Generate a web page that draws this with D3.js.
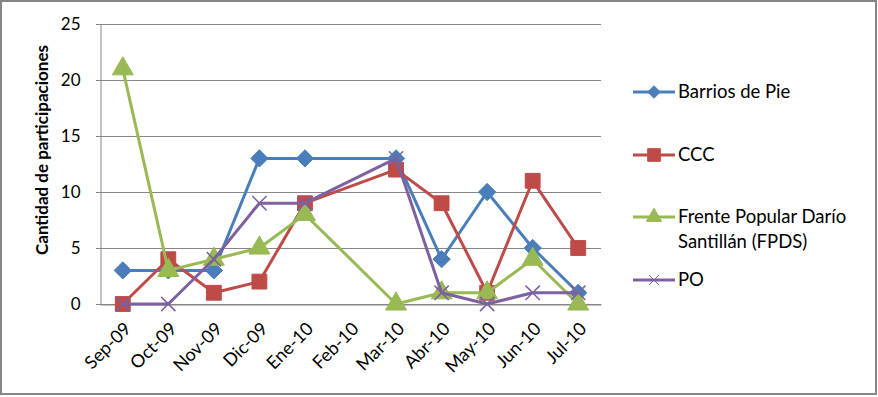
<!DOCTYPE html>
<html>
<head>
<meta charset="utf-8">
<script src="https://cdn.jsdelivr.net/npm/d3@7"></script>
<style>
  body { margin: 0; background: #fff; }
  text { font-family: Lato, "Open Sans", sans-serif; fill: #000; }
</style>
</head>
<body>
<div id="chart_div"></div>
<script>
// categories (Feb-10 has no data)
var months = ['Sep-09','Oct-09','Nov-09','Dic-09','Ene-10','Feb-10','Mar-10','Abr-10','May-10','Jun-10','Jul-10'];
var barrios = [3, 3, 3, 13, 13, null, 13, 4, 10, 5, 1];
var ccc     = [0, 4, 1, 2, 9, null, 12, 9, 1, 11, 5];
var fpds    = [21, 3, 4, 5, 8, null, 0, 1, 1, 4, 0];
var po      = [0, 0, 4, 9, 9, null, 13, 1, 0, 1, 1];
var yTicks  = [0, 5, 10, 15, 20, 25];

var series = [
  {'name':['Barrios de Pie'], 'values':barrios, 'color':'#4A7EBB', 'marker':'diamond', 'ly':92},
  {'name':['CCC'], 'values':ccc, 'color':'#BE4B48', 'marker':'square', 'ly':155},
  {'name':['Frente Popular Darío','Santillán (FPDS)'], 'values':fpds, 'color':'#98B954', 'marker':'triangle', 'ly':217},
  {'name':['PO'], 'values':po, 'color':'#7D60A0', 'marker':'x', 'ly':280}
];

var width = 878, height = 397;
var pLeft = 100, pRight = 601, pTop = 24, pBottom = 304;

var svg = d3.select("#chart_div")
        .append("svg")
        .attr("width", width)
        .attr("height", height);

// outer frame
svg.append('rect')
    .attr('x', 1).attr('y', 1)
    .attr('width', width - 3).attr('height', height - 4)
    .style('fill', 'none')
    .style('stroke', '#868686')
    .style('stroke-width', 2);

var x = d3.scaleBand().domain(months).range([pLeft, pRight]).padding(0);
var y = d3.scaleLinear().domain([0, 25]).range([pBottom, pTop]);

// gridlines
svg.selectAll('.grid')
    .data(yTicks)
    .enter()
    .append('line')
    .attr('x1', pLeft - 4).attr('x2', pRight)
    .attr('y1', function(d) { return Math.round(y(d)) + 0.5; })
    .attr('y2', function(d) { return Math.round(y(d)) + 0.5; })
    .style('stroke', '#868686')
    .style('stroke-width', 1);

// y axis
var yAxis = svg.append('g')
    .attr('transform', 'translate(' + (pLeft + 0.5) + ',0.5)')
    .call(d3.axisLeft(y).tickValues(yTicks).tickSize(0).tickPadding(20));
yAxis.select('.domain').style('stroke', '#868686');
yAxis.selectAll('text')
    .style('font-size', '17px')
    .style('font-family', 'Lato, sans-serif');

// x axis
var xAxis = svg.append('g')
    .attr('transform', 'translate(0,' + (pBottom + 0.5) + ')')
    .call(d3.axisBottom(x).tickSize(0));
xAxis.select('.domain').style('stroke', '#868686');
xAxis.selectAll('text')
    .style('font-size', '18px')
    .style('font-family', 'Lato, sans-serif')
    .style('text-anchor', 'end')
    .attr('transform', 'translate(5,21) rotate(-45)')
    .attr('dy', '0.35em')
    .attr('y', 0)
    .attr('x', 0);

// y title
svg.append('text')
    .attr('transform', 'translate(48,150) rotate(-90)')
    .style('text-anchor', 'middle')
    .style('font-size', '17px')
    .style('font-weight', 'bold')
    .text('Cantidad de participaciones');

function marker(type, size) {
    if (type == 'diamond') return d3.symbol().type(d3.symbolDiamond2).size(size * 1.0)();
    if (type == 'square') return d3.symbol().type(d3.symbolSquare).size(size)();
    if (type == 'triangle') return d3.symbol().type(d3.symbolTriangle).size(size)();
    return d3.symbol().type(d3.symbolX).size(size * 0.9)();
}

series.forEach(function(s) {
    var pts = s.values.map(function(v, i) { return {'m':months[i], 'v':v}; })
                      .filter(function(d) { return d.v != null; });
    svg.append('path')
        .datum(pts)
        .attr('d', d3.line()
            .x(function(d) { return x(d.m) + x.bandwidth() / 2; })
            .y(function(d) { return y(d.v); }))
        .style('fill', 'none')
        .style('stroke', s.color)
        .style('stroke-width', 3)
        .style('stroke-linejoin', 'round');

    svg.selectAll(null)
        .data(pts)
        .enter()
        .append('path')
        .attr('transform', function(d) { return 'translate(' + (x(d.m) + x.bandwidth() / 2) + ',' + y(d.v) + ')'; })
        .attr('d', marker(s.marker, s.marker == 'x' ? 150 : (s.marker == 'square' ? 220 : 190)))
        .style('fill', s.marker == 'x' ? 'none' : s.color)
        .style('stroke', s.color)
        .style('stroke-width', s.marker == 'x' ? 1.5 : 1);
});

// legend
var legend = svg.selectAll('.legend')
    .data(series)
    .enter()
    .append('g')
    .attr('class', 'legend')
    .attr('transform', function(d) { return 'translate(633,' + d.ly + ')'; });

legend.append('line')
    .attr('x1', 0).attr('x2', 42)
    .style('stroke', function(d) { return d.color; })
    .style('stroke-width', 3);

legend.append('path')
    .attr('transform', 'translate(21,0)')
    .attr('d', function(d) { return marker(d.marker, d.marker == 'x' ? 70 : (d.marker == 'square' ? 160 : 100)); })
    .style('fill', function(d) { return d.marker == 'x' ? 'none' : d.color; })
    .style('stroke', function(d) { return d.color; })
    .style('stroke-width', 1);

legend.each(function(d) {
    var t = d3.select(this).append('text')
        .attr('x', 45)
        .attr('y', 6)
        .style('font-size', '18.5px');
    d.name.forEach(function(n, i) {
        t.append('tspan').attr('x', 45).attr('dy', i == 0 ? 0 : 25).text(n);
    });
});
</script>
</body>
</html>
